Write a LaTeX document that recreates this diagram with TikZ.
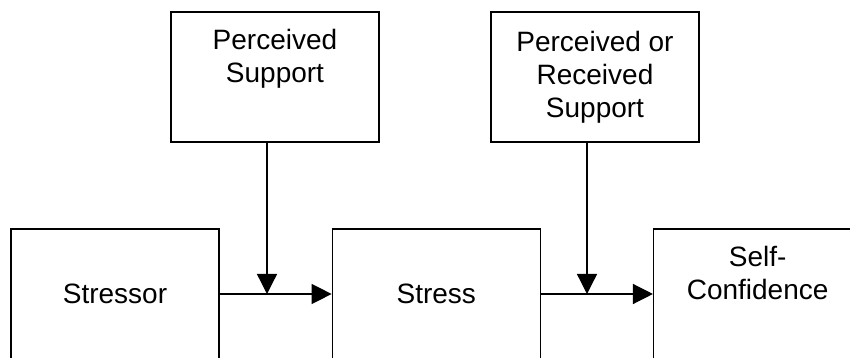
\documentclass[tikz,border=0pt]{standalone}
\usepackage{fontspec}
\setmainfont{Liberation Sans}
\usetikzlibrary{positioning,arrows.meta,calc}

\begin{document}
\begin{tikzpicture}[
  x=0.5pt, y=0.5pt,
  font=\fontsize{14}{16.5}\selectfont,
  >={Triangle[length=10pt,width=10pt]},
  box/.style={
    rectangle, draw=black, line width=0.65pt, inner sep=0pt,
    minimum width=104pt, minimum height=65pt, align=center
  },
  arrow/.style={->, line width=0.65pt, draw=black}
]
\useasboundingbox (0,0) rectangle (850,358);

% --- MAIN CHAIN ---
\node[box] (stressor) at (115,64) {Stressor};
\node[box, right=56pt of stressor] (stress) {Stress};
\node[box, right=56pt of stress] (selfconf) {Self-\\Confidence\\\strut};

% --- SUPPORT (moderators) ---
\node[box] (psup) at (275,281) {Perceived\\Support\\\strut};
\node[box] (prsup) at (595,281) {Perceived or\\Received\\Support};

% --- where the moderators meet the chain ---
\coordinate (jstress) at (267,64);
\coordinate (jconf) at (587,64);

\draw[arrow] (stressor) -- (stress);
\draw[arrow] (stress) -- (selfconf);
\draw[arrow] (psup.south -| jstress) -- (jstress);
\draw[arrow] (prsup.south -| jconf) -- (jconf);

\end{tikzpicture}
\end{document}
